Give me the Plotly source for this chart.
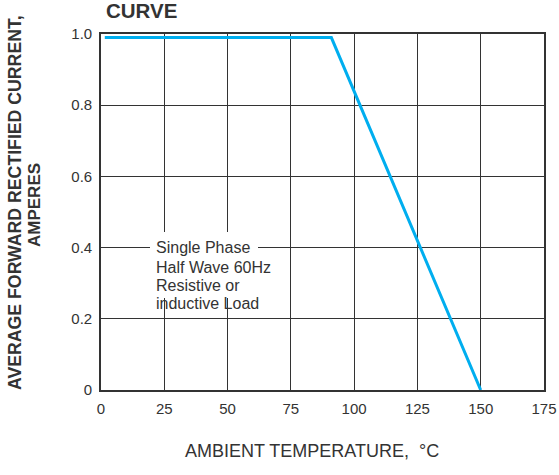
import plotly.graph_objects as go

# Data
temps = [1.5, 91, 150]          # ambient temperature, °C
current = [0.99, 0.99, 0.0]     # average forward rectified current, A

x_ticks = [0, 25, 50, 75, 100, 125, 150, 175]
x_ticktext = ["0", "25", "50", "75", "100", "125", "150", "175"]
y_ticks = [0, 0.2, 0.4, 0.6, 0.8, 1.0]
y_ticktext = ["0", "0.2", "0.4", "0.6", "0.8", "1.0"]

note_lines = ["Single Phase", "Half Wave 60Hz", "Resistive or", "inductive Load"]

GRID = "#333333"
TXT = "#333333"
FONT = "Arial, Liberation Sans, sans-serif"

W, H = 559, 475
L, T = 101, 34
R = W - 544
B = H - 390
PW, PH = W - L - R, H - T - B


def px(x):
    """page pixel x -> paper coordinate"""
    return (x - L) / PW


def py(y):
    """page pixel y -> paper coordinate"""
    return (H - B - y) / PH


fig = go.Figure()
fig.add_trace(go.Scatter(x=temps, y=current, mode="lines",
                         line=dict(color="#00AEEF", width=3),
                         showlegend=False, hoverinfo="skip"))

fig.update_layout(
    width=W, height=H,
    margin=dict(l=L, r=R, t=T, b=B),
    paper_bgcolor="white", plot_bgcolor="white",
    font=dict(family=FONT, size=15, color=TXT),
    xaxis=dict(range=[0, 175], tickvals=x_ticks, ticktext=x_ticktext,
               showgrid=True, gridcolor=GRID, gridwidth=1.4,
               showline=True, linecolor=GRID, linewidth=1.6, mirror=True,
               ticks="", ticklabelstandoff=4, zeroline=False, automargin=False,
               tickfont=dict(size=15, color=TXT)),
    yaxis=dict(range=[0, 1.0], tickvals=y_ticks, ticktext=y_ticktext,
               showgrid=True, gridcolor=GRID, gridwidth=1.4,
               showline=True, linecolor=GRID, linewidth=1.6, mirror=True,
               ticks="", ticklabelstandoff=4, zeroline=False, automargin=False,
               tickfont=dict(size=15, color=TXT)),
)

# white patch behind the note (interrupts gridlines like the reference)
fig.add_shape(type="rect", xref="paper", yref="paper",
              x0=px(150), x1=px(258), y0=py(298), y1=py(232),
              fillcolor="white", line=dict(width=0), layer="above")

ann = [
    dict(text="<b>CURVE</b>", x=px(104), y=py(11), xref="paper", yref="paper",
         showarrow=False, font=dict(size=20.5, color=TXT),
         xanchor="left", yanchor="middle"),
    dict(text="<b>AVERAGE FORWARD RECTIFIED CURRENT,</b>", x=px(15), y=py(203),
         xref="paper", yref="paper", showarrow=False, textangle=-90,
         font=dict(size=17.7, color=TXT), xanchor="center", yanchor="middle"),
    dict(text="<b>AMPERES</b>", x=px(34), y=py(205),
         xref="paper", yref="paper", showarrow=False, textangle=-90,
         font=dict(size=17, color=TXT), xanchor="center", yanchor="middle"),
    dict(text="AMBIENT TEMPERATURE,  °C", x=px(312), y=py(451),
         xref="paper", yref="paper", showarrow=False,
         font=dict(size=18, color=TXT), xanchor="center", yanchor="middle"),
]

line_y = [247, 267, 285, 303]
for txt, ly in zip(note_lines, line_y):
    ann.append(dict(text=txt, x=px(155), y=py(ly),
                    xref="paper", yref="paper", showarrow=False, align="left",
                    xanchor="left", yanchor="middle", borderpad=0,
                    font=dict(size=16, color=TXT)))

fig.update_layout(annotations=ann)

fig.write_html("out.html",
               config={"displayModeBar": False},
               post_script="document.body.style.margin='0';document.body.style.padding='0';")
